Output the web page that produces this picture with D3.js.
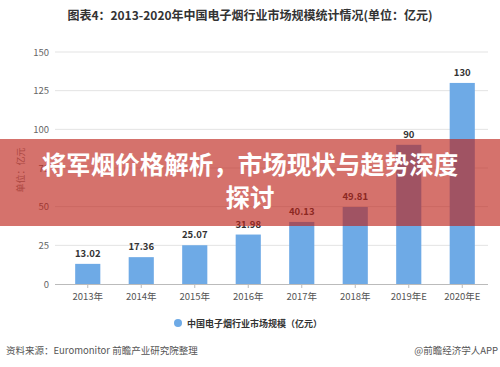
<!DOCTYPE html>
<html>
<head>
<meta charset="utf-8">
<script src="https://cdn.jsdelivr.net/npm/d3@7"></script>
<style>
body { margin:0; background:#fff; }
svg text { font-family: "Noto Sans CJK SC", "Noto Sans", sans-serif; }
</style>
</head>
<body>
<svg id="chart" width="500" height="367"></svg>
<script>
// chart data
const years = ["2013年","2014年","2015年","2016年","2017年","2018年","2019年E","2020年E"];
const values = [13.02, 17.36, 25.07, 31.98, 40.13, 49.81, 90, 130];
const yTicks = [0, 25, 50, 75, 100, 125, 150];

const svg = d3.select("#chart");
const plotL = 55, plotR = 488, plotT = 52, plotB = 284;

const x = d3.scaleBand().domain(years).range([61, 489]).paddingInner(0.53).paddingOuter(0.265);
const y = d3.scaleLinear().domain([0, 150]).range([plotB, plotT]);

// title
svg.append("text").attr("x", 250).attr("y", 20).attr("text-anchor", "middle")
  .attr("font-size", 12).attr("font-weight", "bold").attr("fill", "#333")
  .text("图表4：2013-2020年中国电子烟行业市场规模统计情况(单位：亿元)");

// grid
svg.append("g").selectAll("line").data(yTicks.filter(d => d > 0)).join("line")
  .attr("x1", plotL).attr("x2", plotR)
  .attr("y1", d => y(d)).attr("y2", d => y(d))
  .attr("stroke", "#e3e3e3").attr("stroke-width", 1);

// y labels
svg.append("g").selectAll("text").data(yTicks).join("text")
  .attr("x", 49).attr("y", d => y(d) + 3.5).attr("text-anchor", "end")
  .attr("font-size", 9.5).attr("fill", "#666").text(d => d);

svg.append("text").attr("transform", "translate(24,170) rotate(-90)")
  .attr("text-anchor", "middle").attr("font-size", 9).attr("fill", "#888")
  .text("单位：亿元");

// x axis
const xAxis = d3.axisBottom(x).tickSize(4).tickSizeOuter(0);
const gx = svg.append("g").attr("transform", `translate(0,${plotB})`).call(xAxis);
gx.select(".domain").attr("stroke", "#bbb").attr("d", `M${plotL},0.5H${plotR}`);
gx.selectAll(".tick line").attr("stroke", "#bbb");
gx.selectAll(".tick text").attr("font-size", 9.5).attr("fill", "#555").attr("dy", "0.9em")
  .attr("font-family", "\"Noto Sans CJK SC\", sans-serif");

// bars
svg.append("g").selectAll("rect").data(values).join("rect")
  .attr("x", (d, i) => x(years[i])).attr("width", x.bandwidth())
  .attr("y", d => y(d)).attr("height", d => y(0) - y(d))
  .attr("fill", "#6eaae6");

svg.append("g").selectAll("text").data(values).join("text")
  .attr("x", (d, i) => x(years[i]) + x.bandwidth() / 2)
  .attr("y", d => y(d) - 7).attr("text-anchor", "middle")
  .attr("font-size", 9.5).attr("font-weight", "bold").attr("fill", "#333")
  .text(d => d);

// legend
svg.append("circle").attr("cx", 178).attr("cy", 323).attr("r", 4).attr("fill", "#6eaae6");
svg.append("text").attr("x", 187).attr("y", 326.5).attr("font-size", 9).attr("font-weight", "bold")
  .attr("fill", "#333").text("中国电子烟行业市场规模（亿元）");

// source
svg.append("text").attr("x", 6).attr("y", 354).attr("font-size", 9.5).attr("fill", "#555")
  .text("资料来源：Euromonitor 前瞻产业研究院整理");
svg.append("text").attr("x", 498).attr("y", 354).attr("text-anchor", "end").attr("font-size", 9.5)
  .attr("fill", "#555").text("@前瞻经济学人APP");

// red overlay banner
svg.append("rect").attr("x", 0).attr("y", 139).attr("width", 500).attr("height", 87)
  .attr("fill", "rgb(190,35,25)").attr("fill-opacity", 0.64);
svg.append("text").attr("x", 250).attr("y", 174).attr("text-anchor", "middle")
  .attr("font-size", 24.5).attr("font-weight", "bold").attr("fill", "#fff")
  .text("将军烟价格解析，市场现状与趋势深度");
svg.append("text").attr("x", 250).attr("y", 207).attr("text-anchor", "middle")
  .attr("font-size", 24.5).attr("font-weight", "bold").attr("fill", "#fff")
  .text("探讨");
</script>
</body>
</html>
